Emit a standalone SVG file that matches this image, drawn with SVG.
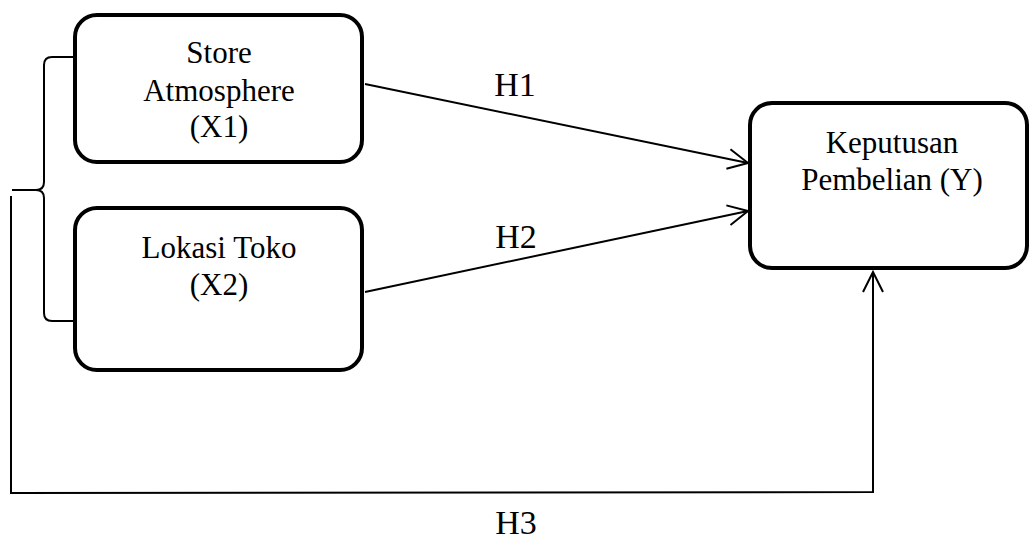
<svg xmlns="http://www.w3.org/2000/svg" width="1030" height="543" viewBox="0 0 1030 543">
<style>
.box{fill:#fff;stroke:#000;stroke-width:4}
.t{font-family:'Liberation Serif','DejaVu Serif',serif;font-size:31px;fill:#000;text-anchor:middle}
.h{font-family:'Liberation Serif','DejaVu Serif',serif;font-size:34px;fill:#000;text-anchor:middle}
.c{fill:none;stroke:#000;stroke-width:2}
</style>
<defs>
<marker id="arr" viewBox="0 0 24 24" refX="22" refY="12" markerWidth="24" markerHeight="24" markerUnits="userSpaceOnUse" orient="auto">
<path d="M2,2 L22,12 L2,22" fill="none" stroke="#000" stroke-width="2"/>
</marker>
</defs>
<rect width="1030" height="543" fill="#fff"/>
<g id="x1">
<rect class="box" x="75" y="15" width="287" height="147" rx="22"/>
<text class="t" x="219" y="63">Store</text>
<text class="t" x="219" y="101">Atmosphere</text>
<text class="t" x="219" y="137">(X1)</text>
</g>
<g id="x2">
<rect class="box" x="75" y="208" width="287" height="162" rx="22"/>
<text class="t" x="219" y="258">Lokasi Toko</text>
<text class="t" x="219" y="295">(X2)</text>
</g>
<g id="y">
<rect class="box" x="750" y="103" width="277" height="165" rx="22"/>
<text class="t" x="892" y="153">Keputusan</text>
<text class="t" x="892" y="190">Pembelian (Y)</text>
</g>
<g id="connectors">
<path class="c" stroke-width="1.5" d="M75,57 L52,57 Q44,57 44,65 L44,182 Q44,190 36,190 L12,190 M12,190 L36,190 Q44,190 44,198 L44,313 Q44,321 52,321 L75,321"/>
<line class="c" x1="365" y1="84" x2="748" y2="163" marker-end="url(#arr)"/>
<line class="c" x1="365" y1="292" x2="748" y2="211" marker-end="url(#arr)"/>
<path class="c" stroke-width="1.5" d="M11,196 L11,493"/>
<path class="c" d="M10,493 L873,492 L873,272" marker-end="url(#arr)"/>
<text class="h" x="515" y="96">H1</text>
<text class="h" x="516" y="248">H2</text>
<text class="h" x="516" y="534">H3</text>
</g>
</svg>
